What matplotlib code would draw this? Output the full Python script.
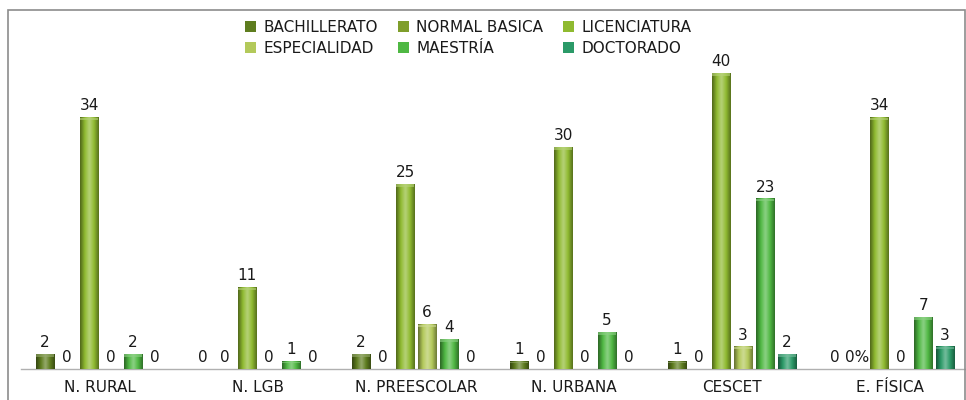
import numpy as np
import matplotlib
matplotlib.use("Agg")
import matplotlib.pyplot as plt
from matplotlib.colors import LinearSegmentedColormap, to_rgb
from matplotlib.patches import Rectangle

plt.rcParams['font.family'] = ['DejaVu Sans']

categories = ['N. RURAL', 'N. LGB', 'N. PREESCOLAR', 'N. URBANA', 'CESCET', 'E. FÍSICA']
series = ['BACHILLERATO', 'NORMAL BASICA', 'LICENCIATURA',
          'ESPECIALIDAD', 'MAESTRÍA', 'DOCTORADO']

bachillerato = [2, 0, 2, 1, 1, 0]
normal_basica = [0, 0, 0, 0, 0, 0]
licenciatura = [34, 11, 25, 30, 40, 34]
especialidad = [0, 0, 6, 0, 3, 0]
maestria = [2, 1, 4, 5, 23, 7]
doctorado = [0, 0, 0, 0, 2, 3]

values = [bachillerato, normal_basica, licenciatura, especialidad, maestria, doctorado]

# data labels as they appear (E. FISICA shows "0%" for normal basica)
labels = [[str(v) for v in s] for s in values]
labels[1][5] = '0%'

colors = ['#5e7d1f', '#7f9e2b', '#8fba30', '#b3c95a', '#4fb843', '#2b9a68']


def shade_bar(ax, patch, color):
    # cylinder-like horizontal gradient on each bar
    base = np.array(to_rgb(color))
    dark = base * 0.55
    light = np.clip(base + (1 - base) * 0.35, 0, 1)
    cmap = LinearSegmentedColormap.from_list(
        'cyl', [dark, base, light, base, dark * 1.1])
    grad = np.linspace(0, 1, 64).reshape(1, -1)
    x, w, h = patch.get_x(), patch.get_width(), patch.get_height()
    if h <= 0:
        return
    ax.imshow(grad, cmap=cmap, aspect='auto', extent=[x, x + w, 0, h],
              zorder=3, interpolation='bicubic')
    cap = min(0.35, h * 0.25)
    ax.add_patch(Rectangle((x, h - cap), w, cap, color=light, alpha=0.6,
                           zorder=4, lw=0))


fig = plt.figure(figsize=(9.66, 4.0), dpi=100)
fig.patches.append(Rectangle((8 / 966, -0.01), 957 / 966, 0.985,
                             transform=fig.transFigure, fill=False,
                             edgecolor='#8c8c8c', lw=1.2))

ax = fig.add_axes([21 / 966, 31 / 400, 945 / 966, 355 / 400])

x = np.arange(len(categories))
slot = 0.139
bw = 0.114

handles = []
for i, (name, vals, col) in enumerate(zip(series, values, colors)):
    pos = x + (i - 2.5) * slot
    bars = ax.bar(pos, vals, bw, color=col, label=name, zorder=2)
    handles.append(bars)
    for b, lab in zip(bars, labels[i]):
        shade_bar(ax, b, col)
        ax.annotate(lab, (b.get_x() + b.get_width() / 2, b.get_height()),
                    xytext=(0, 3), textcoords='offset points',
                    ha='center', va='bottom', fontsize=11, color='#1a1a1a',
                    zorder=5)

ax.set_xlim(-0.5, 5.48)
ax.set_ylim(0, 48)
ax.set_xticks(x)
ax.set_xticklabels(categories, fontsize=11, color='#1a1a1a')
ax.tick_params(axis='x', length=0, pad=8)
ax.set_yticks([])
for s in ['left', 'right', 'top']:
    ax.spines[s].set_visible(False)
ax.spines['bottom'].set_color('#b0b0b0')
ax.spines['bottom'].set_linewidth(1.0)

order = [0, 3, 1, 4, 2, 5]
leg = fig.legend([handles[k] for k in order], [series[k] for k in order],
                 ncol=3, loc='upper center', bbox_to_anchor=(0.485, 0.985),
                 frameon=False, fontsize=11, handlelength=0.7,
                 handleheight=0.7, handletextpad=0.5, columnspacing=1.3,
                 labelspacing=0.4)
for t in leg.get_texts():
    t.set_color('#1a1a1a')

fig.savefig('out.png', dpi=100)
